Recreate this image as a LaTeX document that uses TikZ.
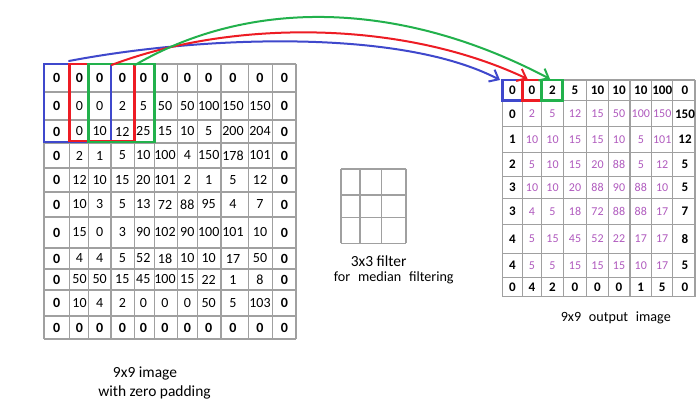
\documentclass[tikz,border=0pt]{standalone}
\usepackage{fontspec}
\setmainfont{Carlito}
\usetikzlibrary{arrows.meta}
\definecolor{gridgray}{RGB}{160,160,160}
\definecolor{pblue}{RGB}{63,72,204}
\definecolor{pred}{RGB}{237,28,36}
\definecolor{pgreen}{RGB}{34,177,76}
\definecolor{purp}{RGB}{176,90,190}
\tikzset{
  gridline/.style={draw=gridgray, line width=0.9pt},
  selbox/.style={line width=2pt},
  lnum/.style={inner sep=0pt, font=\fontsize{10.5}{12}\selectfont},
  lbold/.style={inner sep=0pt, font=\fontsize{10.5}{12}\selectfont\bfseries},
  rnum/.style={inner sep=0pt, text=purp, font=\fontsize{9}{11}\selectfont},
  rbold/.style={inner sep=0pt, font=\fontsize{9.8}{11}\selectfont\bfseries},
  lcell/.code={\ifnum\isb>0 \tikzset{lbold}\else\tikzset{lnum}\fi},
  rcell/.code={\ifnum\isb>0 \tikzset{rbold}\else\tikzset{rnum}\fi},
  label/.style={inner sep=0pt, font=\fontsize{11.6}{13}\selectfont},
  smalllabel/.style={inner sep=0pt, font=\fontsize{10.6}{12}\selectfont},
  flow/.style={line width=1.5pt, line cap=round, -{Straight Barb[length=6pt,width=10pt,line width=1.5pt]}},
}
\begin{document}
\begin{tikzpicture}[x=0.75pt,y=-0.75pt]
\useasboundingbox (0,0) rectangle (700,409);
\fill[white] (0,0) rectangle (700,409);

% ---------- left grid lines ----------
\foreach \x in {44,69.3,88.3,111,134.3,154.3,177.7,197.7,221,248.3,272.3,296}
  \draw[gridline] (\x,64) -- (\x,339);
\foreach \y in {64,92,120,143,168,192,217,248,269,290,316,339}
  \draw[gridline] (44,\y) -- (296,\y);

% ---------- left grid numbers ----------
\foreach \row [count=\r from 0] in {
  {0,0,0,0,0,0,0,0,0,0,0},
  {0,0,0,2,5,50,50,100,150,150,0},
  {0,0,10,12,25,15,10,5,200,204,0},
  {0,2,1,5,10,100,4,150,178,101,0},
  {0,12,10,15,20,101,2,1,5,12,0},
  {0,10,3,5,13,72,88,95,4,7,0},
  {0,15,0,3,90,102,90,100,101,10,0},
  {0,4,4,5,52,18,10,10,17,50,0},
  {0,50,50,15,45,100,15,22,1,8,0},
  {0,10,4,2,0,0,0,50,5,103,0},
  {0,0,0,0,0,0,0,0,0,0,0}} {
  \foreach \v [count=\c from 0] in \row {
    \pgfmathsetmacro\cx{{56.7,79.5,99.7,122.3,143.3,165,187.3,208.7,233,260,284.5}[\c]}
    \pgfmathsetmacro\cy{{78,106,131.5,155.5,180,204.5,232.5,258.5,279.5,303,327.5}[\r]}
    \pgfmathtruncatemacro\isb{(\r==0)+(\r==10)+(\c==0)+(\c==10)}
    \node[lcell] (L-\r-\c) at (\cx,\cy) {\v};
  }
}

% ---------- filter ----------
\foreach \x in {341,360,381.7,406}
  \draw[gridline] (\x,169) -- (\x,243.3);
\foreach \y in {169,195,217.7,243.3}
  \draw[gridline] (341,\y) -- (406,\y);

% ---------- right grid lines ----------
\foreach \x in {502.7,522.3,541.7,563.3,586.7,608.3,630,651.7,672.7,695}
  \draw[gridline] (\x,80) -- (\x,296.7);
\foreach \y in {80,100.7,126.7,152.7,176.7,198.3,224.3,253.3,277.3,296.7}
  \draw[gridline] (502.7,\y) -- (695,\y);

% ---------- right grid numbers ----------
\foreach \row [count=\r from 0] in {
  {0,0,2,5,10,10,10,100,0},
  {0,2,5,12,15,50,100,150,150},
  {1,10,10,15,15,10,5,101,12},
  {2,5,10,15,20,88,5,12,5},
  {3,10,10,20,88,90,88,10,5},
  {3,4,5,18,72,88,88,17,7},
  {4,5,15,45,52,22,17,17,8},
  {4,5,5,15,15,15,10,17,5},
  {0,4,2,0,0,0,1,5,0}} {
  \foreach \v [count=\c from 0] in \row {
    \pgfmathsetmacro\cx{{512.5,532,552.5,575,597.5,619,640.8,662.2,685}[\c]}
    \pgfmathsetmacro\cy{{90.3,114,139.7,164.7,187.5,211.3,238.8,265.3,287}[\r]}
    \pgfmathtruncatemacro\isb{(\r==0)+(\r==8)+(\c==0)+(\c==8)}
    \node[rcell] (R-\r-\c) at (\cx,\cy) {\v};
  }
}

% ---------- selection boxes ----------
\draw[selbox, pblue]  (44,64)   rectangle (111,142);
\draw[selbox, pred]   (69.3,64) rectangle (134.3,141);
\draw[selbox, pgreen] (88.3,64) rectangle (154.3,142);
\draw[selbox, pblue]  (502.7,80) rectangle (522.3,100.7);
\draw[selbox, pred]   (522.3,80) rectangle (541.7,100.7);
\draw[selbox, pgreen] (541.7,80) rectangle (562.3,100.7);

% ---------- arrow end points ----------
\coordinate (bS) at (69,61);
\coordinate (bE) at (500,80);
\coordinate (rS) at (111.6,65);
\coordinate (rE) at (527.6,79);
\coordinate (gS) at (135,65);
\coordinate (gE) at (550,79);

\draw[flow, pblue]  (bS) .. controls (200,36) and (400,28) .. (bE);
\draw[flow, pred]   (rS) .. controls (230,20) and (400,19) .. (rE);
\draw[flow, pgreen] (gS) .. controls (250,-2) and (400,0) .. (gE);

% ---------- labels ----------
\node[label] (lab1) at (145,374) {9x9 image};
\node[label] (lab2) at (154.5,392) {with zero padding};
\node[label] (lab3) at (378.7,261) {3x3 filter};
\node[smalllabel] (lab4) at (393.8,278) {for\hspace{0.55em}median\hspace{0.55em}filtering};
\node[smalllabel] (lab5) at (615.8,318) {9x9\hspace{0.55em}output\hspace{0.55em}image};
\end{tikzpicture}
\end{document}
